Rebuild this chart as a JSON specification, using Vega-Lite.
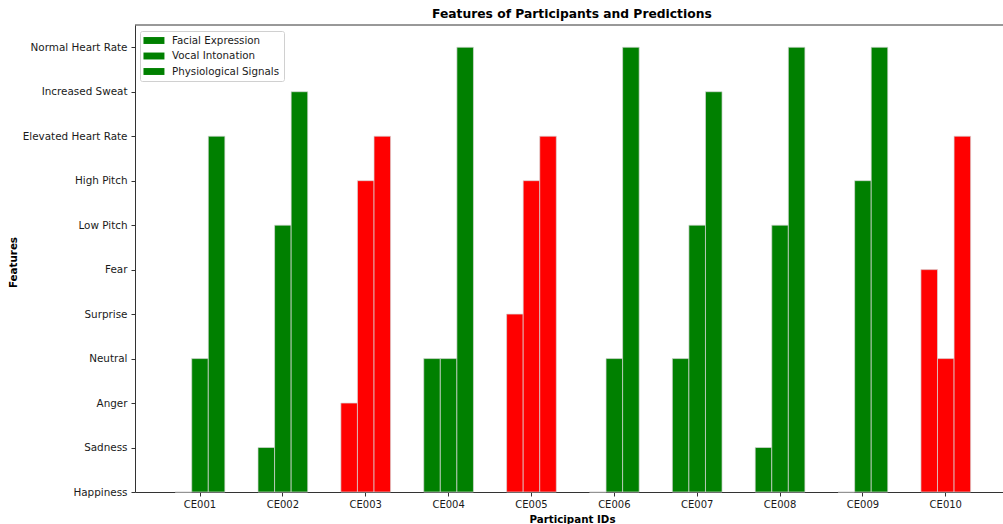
{
  "$schema": "https://vega.github.io/schema/vega-lite/v6.json",
  "autosize": {"type": "none"},
  "padding": {"left": 135, "top": 25, "right": 0, "bottom": 32},
  "width": 868,
  "height": 467,
  "background": "white",
  "config": {
    "view": {"stroke": null},
    "font": "DejaVu Sans",
    "axis": {"labelFont": "DejaVu Sans", "titleFont": "DejaVu Sans", "labelColor": "#1a1a1a", "titleColor": "black", "domainColor": "#333333", "tickColor": "#333333", "domainWidth": 1, "tickWidth": 1, "grid": false, "zindex": 1}
  },
  "title": {"text": "Features of Participants and Predictions", "anchor": "start", "frame": "group", "dx": 297, "dy": 12.3, "fontSize": 12.3, "font": "DejaVu Sans", "fontWeight": "bold", "color": "black", "baseline": "alphabetic", "offset": 6.7},
  "layer": [
    {
      "data": {"values": [
        {"participant": "CE001", "type": "Facial Expression", "feature": "Happiness", "level": 0, "prediction": "Positive"},
        {"participant": "CE001", "type": "Vocal Intonation", "feature": "Neutral", "level": 3, "prediction": "Positive"},
        {"participant": "CE001", "type": "Physiological Signals", "feature": "Elevated Heart Rate", "level": 8, "prediction": "Positive"},
        {"participant": "CE002", "type": "Facial Expression", "feature": "Sadness", "level": 1, "prediction": "Positive"},
        {"participant": "CE002", "type": "Vocal Intonation", "feature": "Low Pitch", "level": 6, "prediction": "Positive"},
        {"participant": "CE002", "type": "Physiological Signals", "feature": "Increased Sweat", "level": 9, "prediction": "Positive"},
        {"participant": "CE003", "type": "Facial Expression", "feature": "Anger", "level": 2, "prediction": "Negative"},
        {"participant": "CE003", "type": "Vocal Intonation", "feature": "High Pitch", "level": 7, "prediction": "Negative"},
        {"participant": "CE003", "type": "Physiological Signals", "feature": "Elevated Heart Rate", "level": 8, "prediction": "Negative"},
        {"participant": "CE004", "type": "Facial Expression", "feature": "Neutral", "level": 3, "prediction": "Positive"},
        {"participant": "CE004", "type": "Vocal Intonation", "feature": "Neutral", "level": 3, "prediction": "Positive"},
        {"participant": "CE004", "type": "Physiological Signals", "feature": "Normal Heart Rate", "level": 10, "prediction": "Positive"},
        {"participant": "CE005", "type": "Facial Expression", "feature": "Surprise", "level": 4, "prediction": "Negative"},
        {"participant": "CE005", "type": "Vocal Intonation", "feature": "High Pitch", "level": 7, "prediction": "Negative"},
        {"participant": "CE005", "type": "Physiological Signals", "feature": "Elevated Heart Rate", "level": 8, "prediction": "Negative"},
        {"participant": "CE006", "type": "Facial Expression", "feature": "Happiness", "level": 0, "prediction": "Positive"},
        {"participant": "CE006", "type": "Vocal Intonation", "feature": "Neutral", "level": 3, "prediction": "Positive"},
        {"participant": "CE006", "type": "Physiological Signals", "feature": "Normal Heart Rate", "level": 10, "prediction": "Positive"},
        {"participant": "CE007", "type": "Facial Expression", "feature": "Neutral", "level": 3, "prediction": "Positive"},
        {"participant": "CE007", "type": "Vocal Intonation", "feature": "Low Pitch", "level": 6, "prediction": "Positive"},
        {"participant": "CE007", "type": "Physiological Signals", "feature": "Increased Sweat", "level": 9, "prediction": "Positive"},
        {"participant": "CE008", "type": "Facial Expression", "feature": "Sadness", "level": 1, "prediction": "Positive"},
        {"participant": "CE008", "type": "Vocal Intonation", "feature": "Low Pitch", "level": 6, "prediction": "Positive"},
        {"participant": "CE008", "type": "Physiological Signals", "feature": "Normal Heart Rate", "level": 10, "prediction": "Positive"},
        {"participant": "CE009", "type": "Facial Expression", "feature": "Happiness", "level": 0, "prediction": "Positive"},
        {"participant": "CE009", "type": "Vocal Intonation", "feature": "High Pitch", "level": 7, "prediction": "Positive"},
        {"participant": "CE009", "type": "Physiological Signals", "feature": "Normal Heart Rate", "level": 10, "prediction": "Positive"},
        {"participant": "CE010", "type": "Facial Expression", "feature": "Fear", "level": 5, "prediction": "Negative"},
        {"participant": "CE010", "type": "Vocal Intonation", "feature": "Neutral", "level": 3, "prediction": "Negative"},
        {"participant": "CE010", "type": "Physiological Signals", "feature": "Elevated Heart Rate", "level": 8, "prediction": "Negative"}
      ]},
      "mark": {"type": "bar", "stroke": "#d8d8d8", "strokeWidth": 0.7},
      "encoding": {
        "x": {
          "field": "participant", "type": "nominal", "sort": null,
          "scale": {"type": "band", "paddingInner": 0.4, "paddingOuter": 0.4375, "align": 0.5537, "round": false},
          "axis": {"title": "Participant IDs", "labelAngle": 0, "labelFontSize": 10, "tickSize": 4, "labelPadding": 3, "titleFontSize": 10.3, "titleFontWeight": "bold", "titleX": 437, "titleY": 30, "titleBaseline": "alphabetic", "titleAlign": "center"}
        },
        "xOffset": {
          "field": "type", "type": "nominal",
          "scale": {"domain": ["Facial Expression", "Vocal Intonation", "Physiological Signals"], "paddingInner": 0, "paddingOuter": 0}
        },
        "y": {
          "field": "level", "type": "quantitative",
          "scale": {"domain": [0, 10.5], "nice": false, "zero": true},
          "axis": {
            "title": "Features", "values": [0, 1, 2, 3, 4, 5, 6, 7, 8, 9, 10],
            "labelExpr": "['Happiness','Sadness','Anger','Neutral','Surprise','Fear','Low Pitch','High Pitch','Elevated Heart Rate','Increased Sweat','Normal Heart Rate'][datum.value]",
            "labelFontSize": 10.4, "tickSize": 4, "labelPadding": 4,
            "titleFontSize": 10.3, "titleFontWeight": "bold", "titleAngle": -90, "titleX": -119, "titleY": 237, "titleBaseline": "alphabetic", "titleAlign": "center"
          }
        },
        "color": {
          "field": "prediction", "type": "nominal",
          "scale": {"domain": ["Positive", "Negative"], "range": ["#008000", "#ff0000"]},
          "legend": null
        },
        "opacity": {
          "field": "type", "type": "nominal",
          "scale": {"domain": ["Facial Expression", "Vocal Intonation", "Physiological Signals"], "range": [1, 1, 1]},
          "legend": {
            "title": null, "orient": "none", "legendX": 5, "legendY": 6,
            "symbolType": "M-1.15,-0.66H2.85V0.66H-1.15Z", "symbolSize": 110, "symbolFillColor": "#008000", "symbolStrokeColor": "#008000", "symbolStrokeWidth": 0, "symbolOpacity": 1,
            "labelFont": "DejaVu Sans", "labelFontSize": 10.3, "labelColor": "#1a1a1a", "labelOffset": 17,
            "rowPadding": 4.5, "padding": 4, "strokeColor": "#d0d0d0", "fillColor": "white", "cornerRadius": 2
          }
        }
      }
    },
    {
      "data": {"values": [{"edge": "top"}]},
      "mark": {"type": "rule", "color": "#333333", "strokeWidth": 1},
      "encoding": {"y": {"datum": 10.5}}
    }
  ]
}
